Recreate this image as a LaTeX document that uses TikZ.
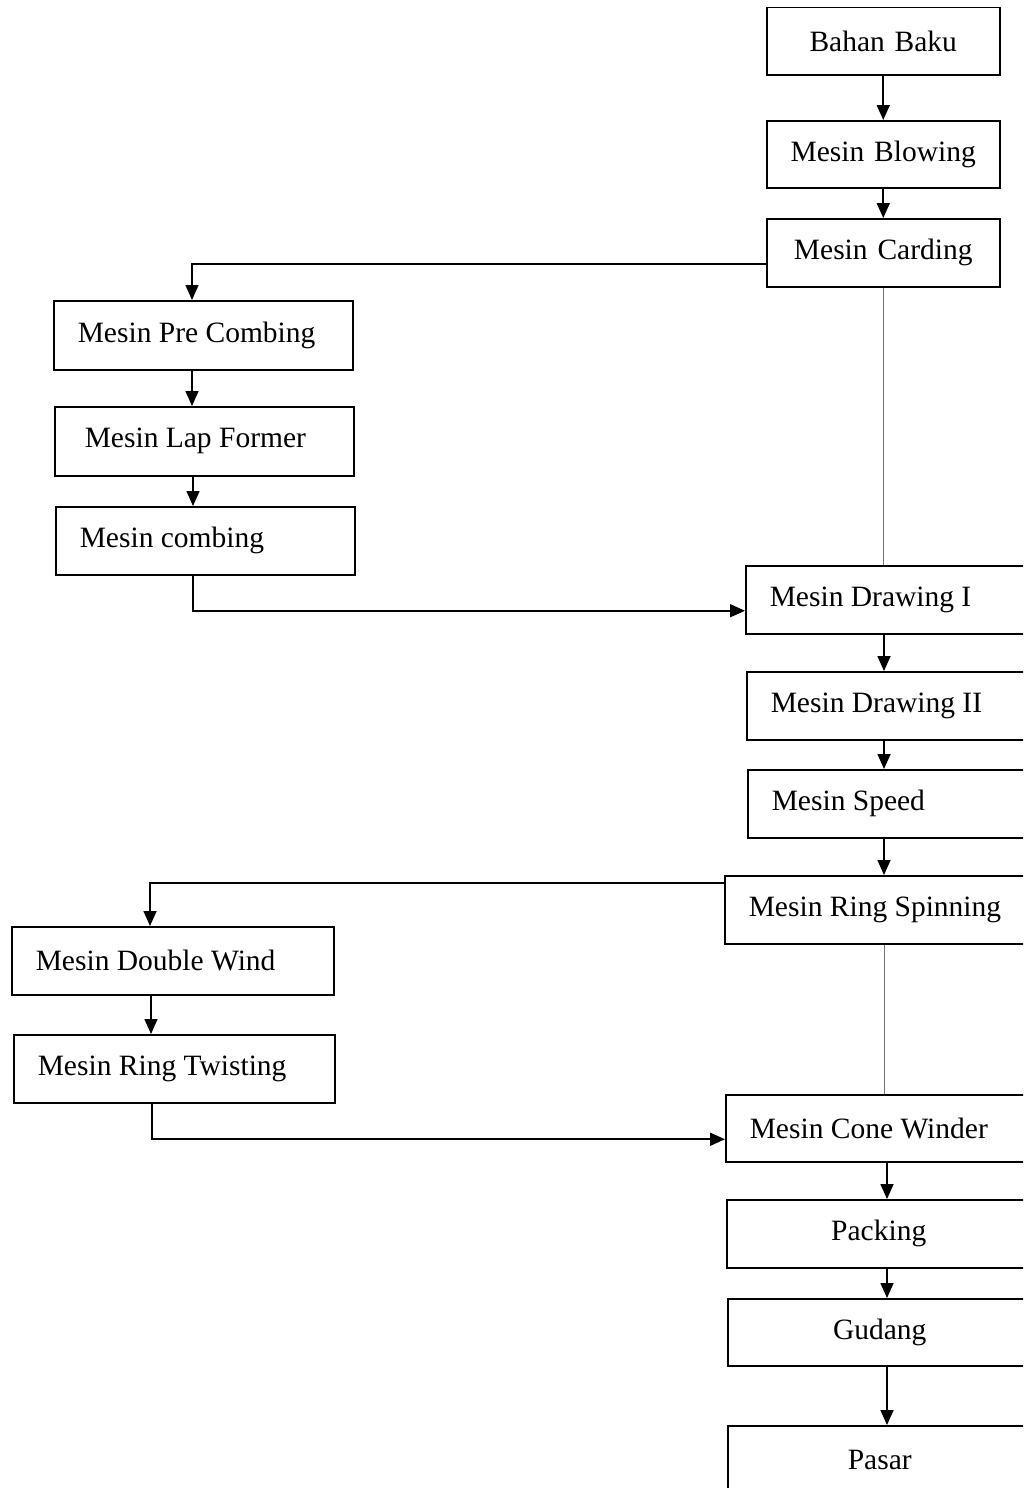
\documentclass[tikz,border=0pt]{standalone}
\usepackage{fontspec}
\setmainfont{Liberation Serif}
\usetikzlibrary{arrows.meta,calc}
\begin{document}
\begin{tikzpicture}[x=1pt,y=1pt,
  box/.style={draw, line width=1.5pt, anchor=north west, inner xsep=24pt, inner ysep=0pt,
    font=\fontsize{29.5}{36}\selectfont, align=flush left},
  boxc/.style={box, inner xsep=6pt, align=center},
  arr/.style={line width=1.6pt, -{Triangle[length=15pt,width=13pt]}},
  thin/.style={line width=0.9pt, black!55}]
\useasboundingbox (0,0) rectangle (1023,-1488);
\clip (0,0) rectangle (1023,-1488);
% right column (top)
\node[boxc, text width=221pt, minimum height=67pt] (bahan) at (766,-7) {Bahan Baku};
\node[boxc, text width=221pt, minimum height=67pt] (blowing) at (766,-120) {Mesin Blowing};
\node[boxc, text width=221pt, minimum height=68pt] (carding) at (766,-218) {Mesin Carding};
% left column (top)
\node[box, text width=251pt, minimum height=69pt] (precomb) at (53,-300) {Mesin Pre Combing};
\node[box, inner xsep=30pt, text width=239pt, minimum height=69pt] (lap) at (54,-406) {Mesin Lap Former};
\node[box, text width=251pt, minimum height=68pt] (comb) at (55,-506) {Mesin combing};
% right column (middle)
\node[box, text width=290pt, minimum height=68pt] (draw1) at (745,-565) {Mesin Drawing I};
\node[box, text width=290pt, minimum height=68pt] (draw2) at (746,-671) {Mesin Drawing II};
\node[box, text width=290pt, minimum height=68pt] (speed) at (747,-769) {Mesin Speed};
\node[box, text width=290pt, minimum height=68pt] (spin) at (724,-875) {Mesin Ring Spinning};
% left column (bottom)
\node[box, text width=274pt, minimum height=68pt] (dwind) at (11,-926) {Mesin Double Wind};
\node[box, text width=273pt, minimum height=68pt] (twist) at (13,-1034) {Mesin Ring Twisting};
% right column (bottom)
\node[box, text width=290pt, minimum height=67pt] (cone) at (725,-1094) {Mesin Cone Winder};
\node[boxc, text width=292pt, minimum height=68pt] (packing) at (726,-1199) {Packing};
\node[boxc, text width=292pt, minimum height=67pt] (gudang) at (727,-1298) {Gudang};
\node[boxc, text width=292pt, minimum height=68pt, yshift=-3pt] (pasar) at (727,-1422) {Pasar};
% column coordinates
\coordinate (c1) at (884,0);
\coordinate (c2) at (887,0);
% connectors
\draw[arr] (bahan.south) -- (blowing.north);
\draw[arr] (blowing.south) -- (carding.north);
\draw[arr] ([yshift=-11pt]carding.west) -| ([xshift=139pt]precomb.north west);
\draw[arr] ([xshift=139pt]precomb.south west) -- ([xshift=138pt]lap.north west);
\draw[arr] ([xshift=139pt]lap.south west) -- ([xshift=138pt]comb.north west);
\draw[arr] ([xshift=138pt]comb.south west) |- ([yshift=-11pt]draw1.west);
\draw[thin] (carding.south) -- (carding.south |- draw1.north);
\draw[arr] (draw1.south -| c1) -- (draw2.north -| c1);
\draw[arr] (draw2.south -| c1) -- (speed.north -| c1);
\draw[arr] (speed.south -| c1) -- (spin.north -| c1);
\draw[arr] ([yshift=27pt]spin.west) -| ([xshift=139pt]dwind.north west);
\draw[arr] ([xshift=140pt]dwind.south west) -- ([xshift=138pt]twist.north west);
\draw[arr] ([xshift=139pt]twist.south west) |- ([yshift=-11pt]cone.west);
\draw[thin] (spin.south -| c1) -- (cone.north -| c1);
\draw[arr] (cone.south -| c2) -- (packing.north -| c2);
\draw[arr] (packing.south -| c2) -- (gudang.north -| c2);
\draw[arr] (gudang.south -| c2) -- (pasar.north -| c2);
\end{tikzpicture}
\end{document}
